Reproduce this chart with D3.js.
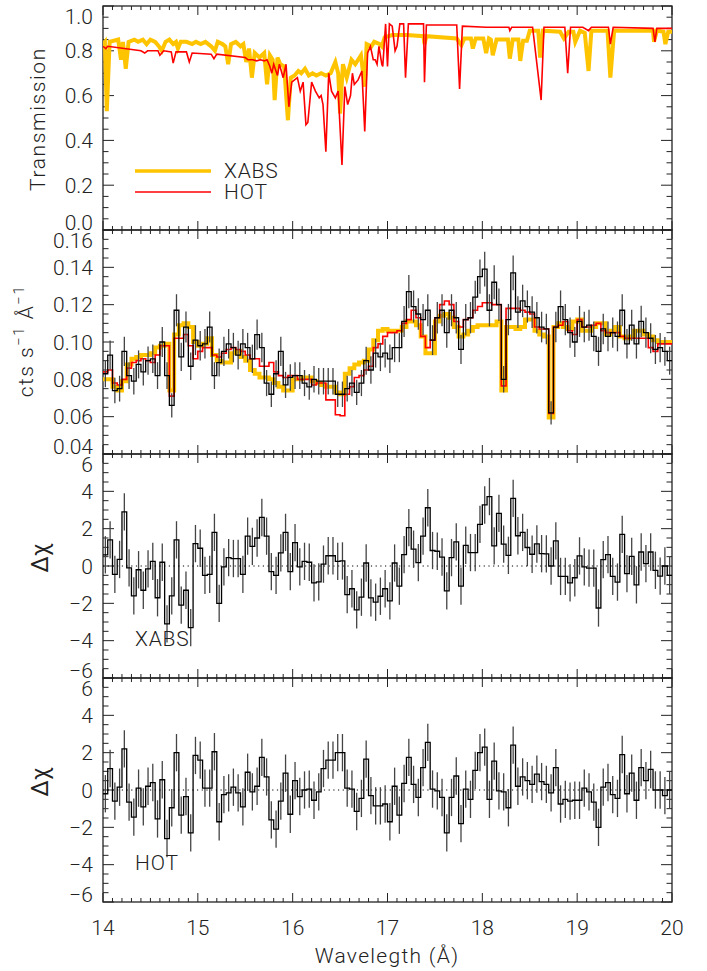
<!DOCTYPE html>
<html>
<head>
<meta charset="utf-8">
<script src="https://cdn.jsdelivr.net/npm/d3@7"></script>
<style>
  body { margin: 0; background: #fff; }
  text { font-family: Roboto, "DejaVu Sans", sans-serif; font-weight: 300; fill: #222; }
</style>
</head>
<body>
<svg id="chart"></svg>
<script>
// ---- transmission curves (top panel) ----
const xabsWave = [14.00,14.02,14.04,14.07,14.16,14.19,14.21,14.24,14.27,14.33,14.37,14.42,14.46,14.50,14.55,14.59,14.62,14.66,14.70,14.74,
  14.77,14.79,14.82,14.88,14.94,14.98,15.03,15.08,15.14,15.18,15.21,15.26,15.29,15.32,15.35,15.40,15.45,15.48,15.51,15.54,
  15.57,15.60,15.65,15.70,15.73,15.76,15.79,15.81,15.84,15.87,15.91,15.95,15.98,16.02,16.06,16.09,16.13,16.17,16.21,16.25,
  16.30,16.35,16.40,16.45,16.48,16.50,16.53,16.57,16.62,16.66,16.72,16.76,16.78,16.83,16.86,16.92,16.94,16.97,17.05,17.20,
  17.38,17.39,17.41,17.73,17.78,17.81,17.88,17.90,17.93,18.01,18.04,18.07,18.09,18.11,18.15,18.27,18.29,18.32,18.38,18.40,
  18.43,18.47,18.50,18.59,18.61,18.64,18.82,18.86,18.91,18.96,18.98,19.03,19.08,19.12,19.15,19.32,19.35,19.39,19.80,19.81,
  19.84,19.91,19.93,19.96,20.00];
const xabsTrans = [0.83,0.84,0.53,0.84,0.85,0.76,0.84,0.72,0.84,0.85,0.84,0.85,0.83,0.85,0.84,0.82,0.80,0.84,0.85,0.83,
  0.84,0.81,0.84,0.84,0.83,0.84,0.83,0.84,0.82,0.80,0.84,0.83,0.82,0.74,0.83,0.84,0.82,0.83,0.75,0.81,
  0.68,0.79,0.77,0.79,0.65,0.78,0.76,0.58,0.77,0.74,0.73,0.49,0.68,0.69,0.71,0.70,0.72,0.69,0.70,0.69,
  0.70,0.69,0.70,0.75,0.70,0.52,0.74,0.68,0.76,0.74,0.78,0.64,0.83,0.82,0.84,0.83,0.82,0.86,0.87,0.87,
  0.865,0.83,0.865,0.855,0.825,0.855,0.855,0.81,0.855,0.855,0.79,0.855,0.85,0.78,0.85,0.85,0.765,0.85,0.85,0.755,
  0.845,0.845,0.89,0.89,0.77,0.89,0.885,0.855,0.885,0.885,0.84,0.89,0.88,0.71,0.89,0.89,0.68,0.89,0.89,0.84,
  0.89,0.885,0.83,0.885,0.885];

const hotWave = [14.00,14.03,14.05,14.40,14.44,14.47,14.58,14.60,14.64,14.72,14.74,14.77,14.88,14.91,14.94,15.14,15.17,15.20,15.50,15.53,
  15.58,15.62,15.66,15.70,15.73,15.76,15.78,15.80,15.84,15.86,15.90,15.93,15.96,15.99,16.02,16.05,16.08,16.11,16.14,16.16,
  16.20,16.24,16.28,16.30,16.32,16.35,16.38,16.41,16.45,16.48,16.52,16.55,16.58,16.61,16.63,16.65,16.69,16.73,16.76,16.79,
  16.82,16.85,16.87,16.89,16.91,16.94,16.95,16.98,17.00,17.02,17.05,17.08,17.10,17.13,17.17,17.19,17.22,17.38,17.39,17.41,
  17.73,17.76,17.79,18.04,18.28,18.29,18.31,18.53,18.62,18.65,18.87,18.90,18.93,19.06,19.12,19.15,19.33,19.35,19.38,19.80,
  19.82,19.84,20.00];
const hotTrans = [0.82,0.81,0.82,0.80,0.79,0.80,0.80,0.78,0.80,0.795,0.745,0.795,0.795,0.75,0.79,0.785,0.765,0.785,0.77,0.76,
  0.76,0.755,0.76,0.755,0.76,0.73,0.70,0.74,0.69,0.74,0.68,0.74,0.55,0.66,0.67,0.68,0.62,0.66,0.47,0.48,
  0.66,0.62,0.59,0.60,0.56,0.35,0.70,0.62,0.59,0.62,0.29,0.64,0.56,0.60,0.70,0.65,0.67,0.71,0.44,0.79,
  0.82,0.76,0.76,0.74,0.82,0.74,0.73,0.92,0.73,0.92,0.91,0.80,0.82,0.92,0.92,0.68,0.92,0.92,0.66,0.915,
  0.915,0.63,0.91,0.905,0.905,0.89,0.905,0.905,0.58,0.905,0.905,0.70,0.905,0.905,0.89,0.905,0.905,0.83,0.905,0.90,
  0.84,0.90,0.90];

// ---- binned spectrum: 120 bins of 0.05 A from 14 to 20 ----
const binStart = 14, binWidth = 0.05, binCount = 120;

const dataFlux = [0.083,0.093,0.074,0.075,0.095,0.082,0.079,0.088,0.084,0.090,
  0.091,0.082,0.100,0.082,0.066,0.117,0.092,0.108,0.087,0.101,
  0.098,0.099,0.108,0.082,0.089,0.095,0.099,0.097,0.093,0.099,
  0.097,0.091,0.104,0.097,0.078,0.072,0.083,0.095,0.077,0.081,
  0.082,0.082,0.078,0.076,0.080,0.079,0.079,0.079,0.079,0.072,
  0.072,0.075,0.078,0.073,0.078,0.090,0.085,0.094,0.092,0.094,
  0.091,0.097,0.097,0.111,0.127,0.119,0.115,0.112,0.117,0.101,
  0.113,0.117,0.105,0.117,0.113,0.096,0.112,0.113,0.124,0.135,
  0.139,0.117,0.132,0.120,0.080,0.112,0.137,0.116,0.122,0.119,
  0.116,0.113,0.108,0.107,0.062,0.108,0.119,0.112,0.105,0.100,
  0.111,0.108,0.109,0.103,0.095,0.107,0.103,0.105,0.103,0.117,
  0.099,0.109,0.099,0.111,0.105,0.102,0.096,0.097,0.095,0.090];

const dataErr = [0.0072,0.0078,0.0068,0.0069,0.0078,0.0072,0.0071,0.0075,0.0073,0.0076,
  0.0076,0.0072,0.0080,0.0072,0.0065,0.0086,0.0076,0.0083,0.0074,0.0080,
  0.0079,0.0079,0.0083,0.0072,0.0075,0.0078,0.0079,0.0079,0.0077,0.0079,
  0.0079,0.0076,0.0081,0.0079,0.0070,0.0068,0.0072,0.0078,0.0070,0.0071,
  0.0072,0.0072,0.0070,0.0069,0.0071,0.0071,0.0071,0.0071,0.0071,0.0068,
  0.0068,0.0069,0.0070,0.0068,0.0070,0.0075,0.0073,0.0077,0.0076,0.0077,
  0.0076,0.0078,0.0078,0.0083,0.0089,0.0086,0.0085,0.0084,0.0086,0.0080,
  0.0084,0.0086,0.0081,0.0086,0.0084,0.0078,0.0084,0.0084,0.0088,0.0092,
  0.0093,0.0086,0.0091,0.0087,0.0071,0.0084,0.0093,0.0085,0.0087,0.0086,
  0.0085,0.0084,0.0082,0.0082,0.0062,0.0082,0.0086,0.0084,0.0081,0.0080,
  0.0083,0.0082,0.0083,0.0080,0.0078,0.0082,0.0080,0.0081,0.0080,0.0086,
  0.0079,0.0083,0.0079,0.0084,0.0081,0.0080,0.0078,0.0078,0.0077,0.0075];

const xabsFlux = [0.080,0.080,0.076,0.074,0.079,0.088,0.091,0.092,0.093,0.093,
  0.094,0.097,0.098,0.099,0.074,0.104,0.109,0.110,0.108,0.100,
  0.098,0.099,0.102,0.093,0.090,0.089,0.089,0.094,0.095,0.092,
  0.090,0.085,0.083,0.081,0.081,0.080,0.078,0.076,0.074,0.074,
  0.080,0.080,0.081,0.081,0.079,0.078,0.077,0.076,0.076,0.073,
  0.072,0.083,0.086,0.088,0.089,0.090,0.096,0.101,0.106,0.107,
  0.106,0.106,0.106,0.108,0.111,0.111,0.109,0.103,0.094,0.094,
  0.111,0.114,0.115,0.113,0.108,0.103,0.104,0.106,0.108,0.109,
  0.109,0.109,0.109,0.111,0.074,0.108,0.108,0.107,0.108,0.112,
  0.112,0.106,0.104,0.103,0.0595,0.108,0.110,0.108,0.107,0.111,
  0.112,0.106,0.106,0.108,0.110,0.110,0.104,0.106,0.108,0.103,
  0.102,0.103,0.106,0.106,0.104,0.103,0.101,0.100,0.100,0.100];

const hotFlux = [0.084,0.085,0.078,0.077,0.080,0.086,0.089,0.090,0.091,0.090,
  0.089,0.093,0.098,0.098,0.071,0.102,0.102,0.104,0.098,0.091,
  0.095,0.097,0.097,0.093,0.092,0.094,0.096,0.097,0.096,0.095,
  0.093,0.091,0.091,0.087,0.087,0.089,0.084,0.082,0.081,0.082,
  0.082,0.080,0.080,0.080,0.077,0.078,0.078,0.069,0.069,0.061,
  0.0605,0.072,0.076,0.081,0.082,0.085,0.087,0.097,0.099,0.103,
  0.105,0.105,0.106,0.110,0.112,0.117,0.113,0.103,0.097,0.101,
  0.113,0.120,0.122,0.120,0.111,0.108,0.112,0.113,0.117,0.119,
  0.121,0.121,0.120,0.120,0.0765,0.118,0.118,0.118,0.117,0.116,
  0.115,0.108,0.107,0.107,0.0617,0.108,0.109,0.111,0.106,0.104,
  0.112,0.108,0.108,0.109,0.110,0.106,0.105,0.105,0.105,0.103,
  0.102,0.102,0.102,0.102,0.102,0.097,0.095,0.099,0.099,0.099];

// residuals in units of sigma (error bars are +-1)
const residErr = 1;
const residXabs = [0.6,1.4,-0.45,0.35,2.9,-0.1,-1.6,-0.2,-1.3,-0.15,
  0.25,-1.7,0.2,-3.1,-1.6,1.4,-2.1,-1.3,-3.3,1.2,
  0.95,-0.5,-0.45,1.8,-2.0,-0.05,0.45,0.4,0.4,-0.45,
  1.6,1.05,1.5,2.6,1.6,-0.3,-0.5,0.7,1.8,-0.3,
  1.25,-0.05,0.25,0.2,-0.9,-0.85,0.1,0.55,0.55,0.25,
  0.27,-1.53,-1.22,-2.35,-1.67,0.16,-1.71,-1.94,-1.62,-1.22,
  -1.87,0.16,-1.08,0.61,2.06,0.9,0.18,1.6,3.12,0.83,
  0.79,0.48,-1.33,0.45,1.29,-1.08,1.11,0.72,0.72,2.23,
  3.27,3.72,1.08,2.82,1.17,0.57,3.62,1.62,1.8,0.99,
  0.63,1.18,0.66,0.65,0.0,1.35,-0.56,-0.56,-0.9,-0.63,
  0.54,-0.05,-0.11,-0.11,-2.25,0.34,0.61,-0.56,-0.86,1.69,
  -0.41,0.52,-1.01,0.75,0.13,0.75,-0.23,-0.54,0.0,-0.5];

const residHot = [-0.2,1.15,-0.6,0.15,2.2,-0.65,-1.45,0.1,-0.9,0.2,
  0.4,-1.55,0.55,-2.6,-0.95,2.0,-1.35,-0.35,-2.3,1.85,
  1.6,0.1,0.1,2.05,-1.7,-0.25,-0.15,0.15,-0.15,-0.9,
  0.95,-0.1,0.2,1.75,0.7,-1.6,-2.1,-0.6,0.9,-1.3,
  0.5,-0.35,0.0,0.05,-0.55,-0.1,1.15,1.6,1.6,2.0,
  2.0,0.1,0.05,-1.15,-0.45,1.65,-0.3,-0.85,-0.85,-0.75,
  -1.7,0.2,-1.35,0.35,1.75,0.3,-0.4,1.2,2.55,0.05,
  -0.05,-0.4,-2.3,-0.4,0.75,-1.8,0.05,-0.5,1.05,2.0,
  2.3,-0.5,1.55,-0.05,-0.1,-0.95,2.4,0.2,0.7,0.5,
  0.3,0.85,0.45,0.3,-0.15,1.2,-0.75,-0.5,-0.6,-0.55,
  -0.55,0.1,-0.1,-0.65,-2.0,0.15,0.4,-0.25,-0.45,1.9,
  -0.2,0.9,-0.55,1.2,0.5,1.1,0.0,0.0,-0.3,0.0];

const xTicks = [14, 15, 16, 17, 18, 19, 20];

// ---- layout ----
const width = 707, height = 971;
const left = 103, right = 672;
const panelH = 224;
const yellow = '#ffc400', red = '#ff0000';

const svg = d3.select('#chart')
  .attr('width', width)
  .attr('height', height);

const x = d3.scaleLinear().domain([14, 20]).range([left, right]);

const minusFmt = d => d3.format('d')(d).replace('-', '\u2212');
const panels = [
  { top: 6,   domain: [0, 1],       major: 0.2,  minor: 0.05,  fmt: d3.format('.1f') },
  { top: 230, domain: [0.04, 0.16], major: 0.02, minor: 0.005, fmt: d3.format('.2f') },
  { top: 454, domain: [-6, 6],      major: 2,    minor: 0.5,   fmt: minusFmt },
  { top: 678, domain: [-6, 6],      major: 2,    minor: 0.5,   fmt: minusFmt }
];

const stepsOf = (d0, d1, step) => d3.range(Math.round((d1 - d0) / step) + 1)
  .map(i => +(d0 + i * step).toFixed(4));

const xMinor = stepsOf(14, 20, 0.1);

panels.forEach((p, k) => {
  p.y = d3.scaleLinear().domain(p.domain).range([p.top + panelH, p.top]);
  const g = svg.append('g');
  const bottom = p.top + panelH;

  g.append('clipPath').attr('id', 'clip' + k)
    .append('rect').attr('x', left).attr('y', p.top).attr('width', right - left).attr('height', panelH);
  p.clip = 'url(#clip' + k + ')';

  // x ticks, top and bottom
  xMinor.forEach(v => {
    const isMajor = Math.abs(v - Math.round(v)) < 1e-6;
    const len = isMajor ? 9 : 4;
    g.append('line').attr('x1', x(v)).attr('x2', x(v)).attr('y1', bottom).attr('y2', bottom - len)
      .attr('stroke', '#222').attr('stroke-width', 1);
    g.append('line').attr('x1', x(v)).attr('x2', x(v)).attr('y1', p.top).attr('y2', p.top + len)
      .attr('stroke', '#222').attr('stroke-width', 1);
  });

  // y ticks, left and right
  stepsOf(p.domain[0], p.domain[1], p.minor).forEach(v => {
    const r = v / p.major;
    const isMajor = Math.abs(r - Math.round(r)) < 1e-6;
    const len = isMajor ? 11 : 5.5;
    const yy = p.y(v);
    g.append('line').attr('x1', left).attr('x2', left + len).attr('y1', yy).attr('y2', yy)
      .attr('stroke', '#222').attr('stroke-width', 1);
    g.append('line').attr('x1', right).attr('x2', right - len).attr('y1', yy).attr('y2', yy)
      .attr('stroke', '#222').attr('stroke-width', 1);
  });

  // y tick labels (end labels pulled inside the frame, as in the original)
  stepsOf(p.domain[0], p.domain[1], p.major).forEach(v => {
    let yy = p.y(v);
    if (yy - p.top < 9) yy = p.top + 10;
    if (bottom - yy < 9) yy = bottom - 8;
    g.append('text').attr('x', 93).attr('y', yy).attr('dy', '0.36em')
      .attr('text-anchor', 'end').attr('font-size', 21)
      .text(p.fmt(v));
  });

  g.append('rect').attr('x', left).attr('y', p.top).attr('width', right - left).attr('height', panelH)
    .attr('fill', 'none').attr('stroke', '#222').attr('stroke-width', 1.3);
});

// ---- panel 1: transmission ----
const p1 = panels[0];
const transLine = d3.line().x(d => x(d[0])).y(d => p1.y(d[1]));
svg.append('path')
  .attr('d', transLine(xabsWave.map((w, i) => [w, xabsTrans[i]])))
  .attr('fill', 'none').attr('stroke', yellow).attr('stroke-width', 4)
  .attr('clip-path', p1.clip);
svg.append('path')
  .attr('d', transLine(hotWave.map((w, i) => [w, hotTrans[i]])))
  .attr('fill', 'none').attr('stroke', red).attr('stroke-width', 1.6)
  .attr('clip-path', p1.clip);

const legend = [
  { name: 'XABS', color: yellow, width: 3.5, y: 171 },
  { name: 'HOT', color: red, width: 1.6, y: 192 }
];
legend.forEach(l => {
  svg.append('line').attr('x1', 135).attr('x2', 211).attr('y1', l.y).attr('y2', l.y)
    .attr('stroke', l.color).attr('stroke-width', l.width);
  svg.append('text').attr('x', 224).attr('y', l.y + 7).attr('font-size', 21)
    .attr('letter-spacing', 0.8).text(l.name);
});

// ---- helpers for binned steps ----
const binEdges = d3.range(binCount + 1).map(i => binStart + i * binWidth);
const stepPoints = vals => binEdges.map((e, i) => [e, vals[Math.min(i, binCount - 1)]]);

function drawSteps(p, vals, color, w) {
  const line = d3.line().x(d => x(d[0])).y(d => p.y(d[1])).curve(d3.curveStepAfter);
  svg.append('path').attr('d', line(stepPoints(vals)))
    .attr('fill', 'none').attr('stroke', color).attr('stroke-width', w)
    .attr('clip-path', p.clip);
}

function drawErrors(p, vals, errs) {
  const g = svg.append('g').attr('clip-path', p.clip);
  vals.forEach((v, i) => {
    const e = Array.isArray(errs) ? errs[i] : errs;
    const cx = x(binEdges[i] + binWidth / 2);
    g.append('line').attr('x1', cx).attr('x2', cx)
      .attr('y1', p.y(v - e)).attr('y2', p.y(v + e))
      .attr('stroke', '#444').attr('stroke-width', 1.3);
  });
}

// ---- panel 2: spectrum ----
const p2 = panels[1];
drawSteps(p2, xabsFlux, yellow, 4);
drawSteps(p2, hotFlux, red, 1.6);
drawErrors(p2, dataFlux, dataErr);
drawSteps(p2, dataFlux, '#000', 1.3);

// ---- panels 3 and 4: residuals ----
[[panels[2], residXabs, 'XABS'], [panels[3], residHot, 'HOT']].forEach(([p, vals, name]) => {
  svg.append('line').attr('x1', left).attr('x2', right).attr('y1', p.y(0)).attr('y2', p.y(0))
    .attr('stroke', '#000').attr('stroke-width', 1).attr('stroke-dasharray', '1.2,3.5');
  drawErrors(p, vals, residErr);
  drawSteps(p, vals, '#000', 1.3);
  svg.append('text').attr('x', 135).attr('y', p.top + 192).attr('font-size', 21)
    .attr('letter-spacing', 0.8).text(name);
  svg.append('text')
    .attr('transform', `translate(48, ${p.top + panelH / 2 - 8}) rotate(-90)`)
    .attr('text-anchor', 'middle').attr('font-size', 23).style('font-weight', 400)
    .text('\u0394\u03c7');
});

// ---- axis titles ----
svg.append('text')
  .attr('transform', 'translate(45, 119) rotate(-90)')
  .attr('text-anchor', 'middle').attr('font-size', 21).attr('letter-spacing', 1.6)
  .text('Transmission');

const cts = svg.append('text')
  .attr('transform', 'translate(33, 341) rotate(-90)')
  .attr('text-anchor', 'middle').attr('font-size', 21).attr('letter-spacing', 1.5);
cts.append('tspan').text('cts  s');
cts.append('tspan').attr('dy', -9).attr('font-size', 15).text('\u22121');
cts.append('tspan').attr('dy', 9).text('  \u00c5');
cts.append('tspan').attr('dy', -9).attr('font-size', 15).text('\u22121');

const bottomY = panels[3].top + panelH;
xTicks.forEach(t => {
  svg.append('text').attr('x', x(t)).attr('y', bottomY + 33)
    .attr('text-anchor', 'middle').attr('font-size', 21).text(t);
});
svg.append('text').attr('x', 387).attr('y', 963)
  .attr('text-anchor', 'middle').attr('font-size', 21).attr('letter-spacing', 1.3)
  .text('Wavelegth (\u00c5)');
</script>
</body>
</html>
